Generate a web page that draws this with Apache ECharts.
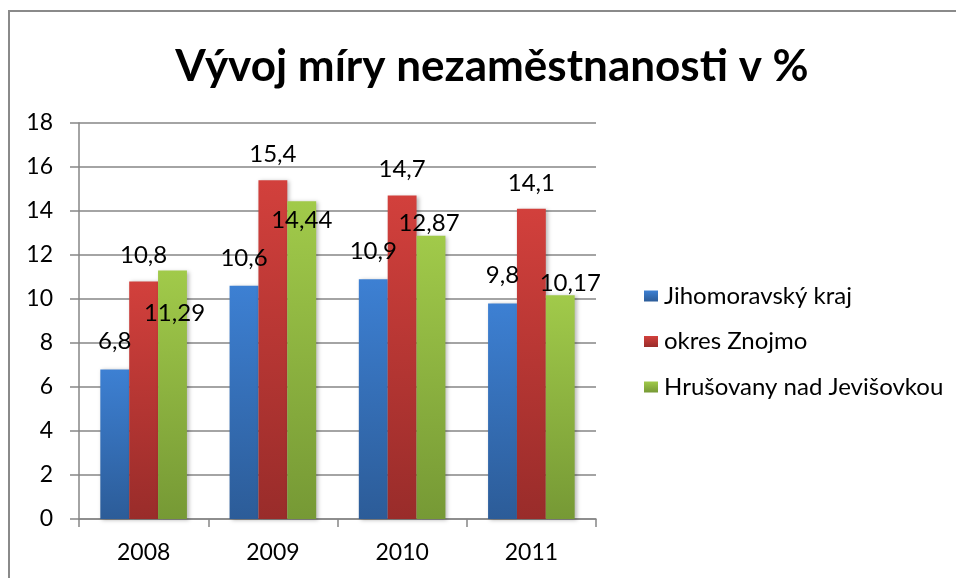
<!DOCTYPE html>
<html>
<head>
<meta charset="utf-8">
<script src="https://cdn.jsdelivr.net/npm/echarts@6/dist/echarts.min.js"></script>
<style>
  html, body { margin: 0; padding: 0; background: #fff; }
  #chart { width: 956px; height: 578px; }
</style>
</head>
<body>
<div id="chart"></div>
<script>
const years = ['2008', '2009', '2010', '2011'];
const kraj = [6.8, 10.6, 10.9, 9.8];
const znojmo = [10.8, 15.4, 14.7, 14.1];
const hrusovany = [11.29, 14.44, 12.87, 10.17];
const seriesNames = ['Jihomoravský kraj', 'okres Znojmo', 'Hrušovany nad Jevišovkou'];

const FONT = 'Lato';
// Excel nudged the green labels around to avoid overlaps
const greenNudge = [[2, 69], [0, 45], [-2, 13], [10, 14]];

const grad = (top, bottom) => new echarts.graphic.LinearGradient(0, 0, 0, 1, [
  { offset: 0, color: top },
  { offset: 1, color: bottom }
]);

const fmt = p => String(p.value).replace('.', ',');

const barStyle = (top, bottom) => ({
  color: grad(top, bottom),
  shadowColor: 'rgba(0,0,0,0.28)',
  shadowBlur: 4,
  shadowOffsetX: 2,
  shadowOffsetY: 1
});

const labelBase = {
  show: true,
  position: 'top',
  distance: 14,
  color: '#000',
  fontFamily: FONT,
  fontSize: 24,
  formatter: fmt
};

const chart = echarts.init(document.getElementById('chart'));

chart.setOption({
  animation: false,
  title: {
    text: 'Vývoj míry nezaměstnanosti v %',
    left: 487,
    textAlign: 'center',
    top: 40,
    textStyle: { fontFamily: FONT, fontSize: 44, fontWeight: 'bold', color: '#000' }
  },
  graphic: [{
    type: 'rect',
    shape: { x: 9, y: 11, width: 1200, height: 1200 },
    style: { fill: 'none', stroke: '#8a8a8a', lineWidth: 2 },
    silent: true
  }],
  legend: {
    orient: 'vertical',
    left: 639,
    top: 279,
    itemWidth: 14,
    itemHeight: 11,
    itemGap: 21.5,
    icon: 'rect',
    textStyle: { fontFamily: FONT, fontSize: 24, color: '#000', padding: [0, 0, 0, 1] },
    data: seriesNames
  },
  grid: {
    left: 79,
    right: 360,
    top: 123,
    bottom: 59,
    containLabel: false,
    outerBoundsMode: 'none'
  },
  xAxis: {
    type: 'category',
    data: years,
    axisLine: { lineStyle: { color: '#868686', width: 1.5 } },
    axisTick: { show: true, length: 8, lineStyle: { color: '#868686', width: 1.5 } },
    axisLabel: { color: '#000', fontFamily: FONT, fontSize: 23, margin: 22 }
  },
  yAxis: {
    type: 'value',
    min: 0,
    max: 18,
    interval: 2,
    axisLine: { show: true, lineStyle: { color: '#868686', width: 1.5 } },
    axisTick: { show: true, length: 9, lineStyle: { color: '#868686', width: 1.5 } },
    axisLabel: { color: '#000', fontFamily: FONT, fontSize: 23, margin: 26 },
    splitLine: { lineStyle: { color: '#868686', width: 1.5 } }
  },
  series: [
    {
      name: seriesNames[0],
      type: 'bar',
      data: kraj,
      barGap: '0%',
      barCategoryGap: '33%',
      itemStyle: barStyle('#3d80d3', '#2c5c98'),
      label: Object.assign({}, labelBase, { distance: 16 })
    },
    {
      name: seriesNames[1],
      type: 'bar',
      data: znojmo,
      barGap: '0%',
      barCategoryGap: '33%',
      itemStyle: barStyle('#d2403c', '#992c2a'),
      label: labelBase
    },
    {
      name: seriesNames[2],
      type: 'bar',
      data: hrusovany.map((v, i) => ({ value: v, label: { offset: greenNudge[i] } })),
      barGap: '0%',
      barCategoryGap: '33%',
      itemStyle: barStyle('#a1ca4a', '#769935'),
      label: labelBase
    }
  ]
});
</script>
</body>
</html>
